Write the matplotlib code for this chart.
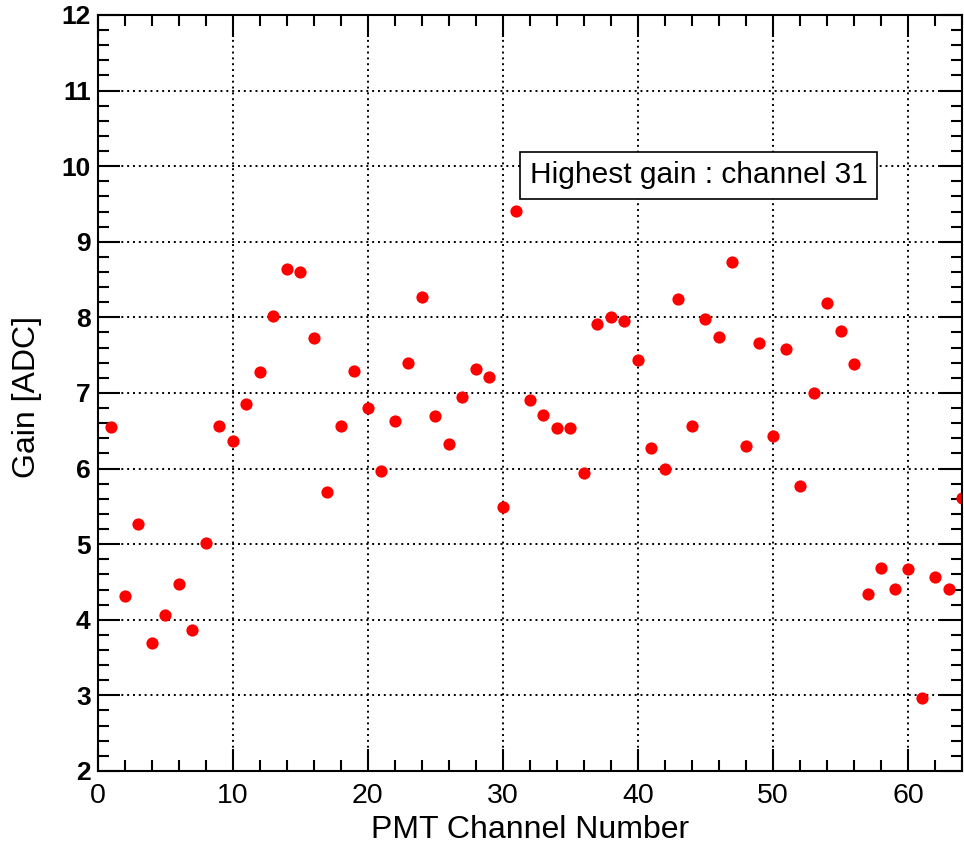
import matplotlib
matplotlib.use('Agg')
from matplotlib import pyplot as plt
from matplotlib.ticker import MultipleLocator

plt.rcParams['font.family'] = ['Liberation Sans', 'DejaVu Sans']

channels = list(range(1, 65))
gains = [
    6.55, 4.31, 5.27, 3.69, 4.06, 4.47, 3.87, 5.02, 6.56, 6.37,
    6.85, 7.28, 8.02, 8.64, 8.60, 7.73, 5.69, 6.56, 7.29, 6.80,
    5.97, 6.63, 7.40, 8.27, 6.70, 6.33, 6.95, 7.32, 7.21, 5.49,
    9.41, 6.91, 6.71, 6.54, 6.54, 5.94, 7.91, 8.01, 7.95, 7.44,
    6.27, 5.99, 8.24, 6.56, 7.98, 7.74, 8.73, 6.30, 7.66, 6.43,
    7.58, 5.77, 7.00, 8.19, 7.82, 7.38, 4.34, 4.69, 4.41, 4.67,
    2.97, 4.57, 4.41, 5.61,
]
best = channels[gains.index(max(gains))]

fig = plt.figure(figsize=(9.64, 8.5), dpi=100)
ax = fig.add_axes([0.1013, 0.093, 0.8967, 0.8894])

ax.plot(channels, gains, 'o', color='red', markersize=8.8, markeredgewidth=0)

ax.set_xlim(0, 64)
ax.set_ylim(2, 12)
ax.xaxis.set_major_locator(MultipleLocator(10))
ax.xaxis.set_minor_locator(MultipleLocator(2))
ax.yaxis.set_major_locator(MultipleLocator(1))
ax.yaxis.set_minor_locator(MultipleLocator(0.2))

ax.grid(True, which='major', color='black', linestyle=(0, (1, 2)), linewidth=1.4)
ax.tick_params(which='both', direction='in', top=True, right=True, color='black')
ax.tick_params(which='major', length=16, width=1.5)
ax.tick_params(which='minor', length=8, width=1.5)
ax.tick_params(axis='x', labelsize=20.5, pad=9)
ax.tick_params(axis='y', labelsize=19, pad=5)
for lab in ax.get_yticklabels():
    lab.set_fontweight('bold')
for s in ax.spines.values():
    s.set_linewidth(1.5)

ax.set_xlabel('PMT Channel Number', fontsize=23, labelpad=4)
# y label placed by hand, the tick labels push it off the left edge otherwise
fig.text(27 / 964, 1 - 397 / 850, 'Gain [ADC]', fontsize=23, rotation=90,
         ha='center', va='center')

ax.text(44.5, 9.88, f'Highest gain : channel {best}', fontsize=21.5,
        ha='center', va='center',
        bbox=dict(boxstyle='square,pad=0.32', facecolor='white', edgecolor='black', linewidth=1.2))

plt.savefig('out.png', dpi=100)
plt.close(fig)
